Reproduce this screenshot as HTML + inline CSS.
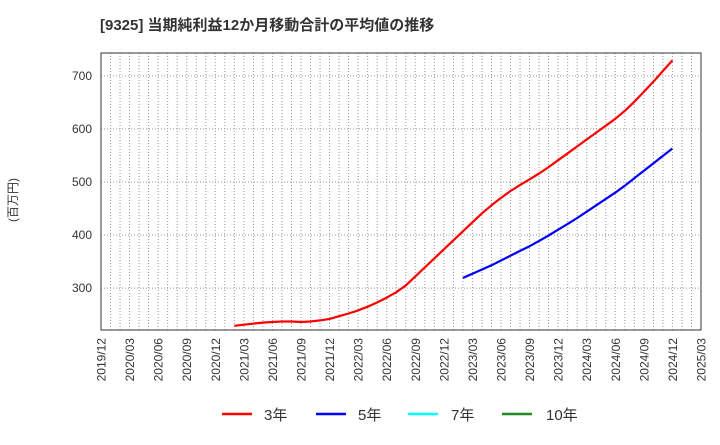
<!DOCTYPE html>
<html><head><meta charset="utf-8"><style>
body{margin:0;background:#fff;}
svg text{font-family:"Liberation Sans","Noto Sans CJK JP",sans-serif;}
</style></head><body>
<svg id="chart" width="720" height="440" xmlns="http://www.w3.org/2000/svg">
<text x="100" y="30" font-size="15" font-weight="bold" fill="#333">[9325]  当期純利益12か月移動合計の平均値の推移</text>
<text transform="translate(17,200) rotate(-90)" text-anchor="middle" font-size="12" fill="#333">(百万円)</text>
<g id="grid"></g><g id="axes"></g><g id="series"></g>
<g font-size="15" fill="#333">
<line x1="222" y1="414" x2="252" y2="414" stroke="#ff0000" stroke-width="2.5"/><text x="264" y="420">3年</text>
<line x1="316" y1="414" x2="346" y2="414" stroke="#0000ff" stroke-width="2.5"/><text x="358" y="420">5年</text>
<line x1="408" y1="414" x2="438" y2="414" stroke="#00ffff" stroke-width="2.5"/><text x="451" y="420">7年</text>
<line x1="502" y1="414" x2="532" y2="414" stroke="#228b22" stroke-width="2.5"/><text x="546" y="420">10年</text>
</g>
</svg>
<script>
const xTickLabels=["2019/12","2020/03","2020/06","2020/09","2020/12","2021/03","2021/06","2021/09","2021/12","2022/03","2022/06","2022/09","2022/12","2023/03","2023/06","2023/09","2023/12","2024/03","2024/06","2024/09","2024/12","2025/03"];
const yTicks=[300,400,500,600,700];
const red3yStart=14;
const red3y=[229,231,233,235,236,237,237,236,237,239,242,247,252,258,265,273,282,292,305,322,339,356,373,390,407,424,441,456,470,483,494,505,516,528,541,554,567,580,593,606,619,634,651,670,689,709,729];
const blue5yStart=38;
const blue5y=[319,327,335,343,352,361,370,379,389,399,410,421,432,444,456,468,480,493,507,521,535,549,563];
const L=101,R=701,T=53,B=330,months=63,yMin=221,yMax=743;
const X=m=>L+(R-L)*m/months;
const Y=v=>B-(B-T)*(v-yMin)/(yMax-yMin);
const NS="http://www.w3.org/2000/svg";
function mk(tag,attrs,parent){const e=document.createElementNS(NS,tag);for(const k in attrs)e.setAttribute(k,attrs[k]);document.getElementById(parent).appendChild(e);return e;}
for(let m=1;m<months;m++){
 const e=mk('line',{x1:X(m),x2:X(m),y1:T,y2:B,stroke:'#999','stroke-width':1,'stroke-dasharray':'1,2'},'grid');
 
 
}
yTicks.forEach(v=>{
 const g=mk('line',{x1:L,x2:R,y1:Y(v),y2:Y(v),stroke:'#999','stroke-width':1,'stroke-dasharray':'1,2'},'grid');
 
 
 const t=mk('text',{x:L-9,y:Y(v)+4,'text-anchor':'end','font-size':12,fill:'#333'},'axes');
 t.textContent=v;
 
 
});
xTickLabels.forEach((s,i)=>{
 const x=X(i*3);
 const t=mk('text',{transform:`translate(${x+4.5},338) rotate(-90)`,'text-anchor':'end','font-size':12,fill:'#333'},'axes');
 t.textContent=s;
 
 
});
const fr=mk('rect',{x:L,y:T,width:R-L,height:B-T,fill:'none',stroke:'#333','stroke-width':1},'axes');


function line(vals,start,color,name){
 const d=vals.map((v,i)=>(i?'L':'M')+X(start+i).toFixed(1)+','+Y(v).toFixed(1)).join(' ');
 const p=mk('path',{d:d,fill:'none',stroke:color,'stroke-width':2.2,'stroke-linejoin':'round'},'series');
 
 
}
line(red3y,red3yStart,'#ff0000','series-3y');
line(blue5y,blue5yStart,'#0000ff','series-5y');
</script>
</body></html>
